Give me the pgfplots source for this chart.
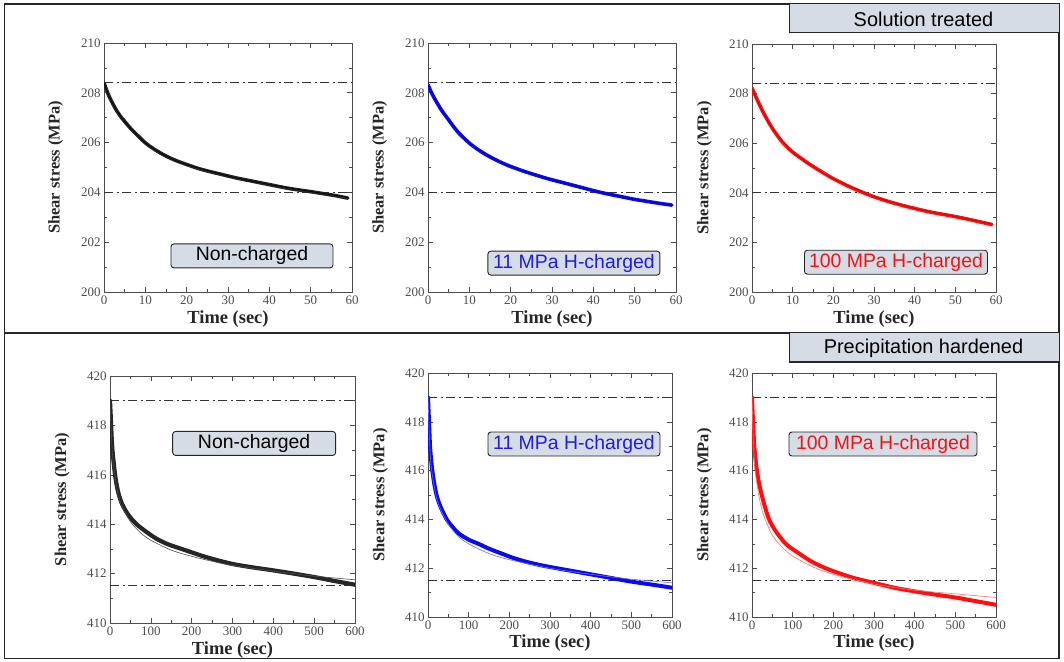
\documentclass[border=0pt]{standalone}
\usepackage{fontspec}
\setmainfont{Liberation Serif}
\newfontfamily\arial{Liberation Sans}
\usepackage{pgfplots}
\pgfplotsset{compat=1.18}
\definecolor{boxfill}{HTML}{D6DCE5}
\definecolor{myblue}{RGB}{10,10,235}
\definecolor{myred}{RGB}{255,15,15}
\definecolor{txtblue}{RGB}{30,30,220}
\definecolor{txtred}{RGB}{240,20,20}
\tikzset{lbl/.style={draw=black!85, fill=boxfill, rounded corners=3bp, line width=0.9bp, font=\arial\fontsize{19.5}{21}\selectfont, inner sep=0pt, minimum height=24bp, anchor=center}}
\pgfplotsset{panel/.style={
  scale only axis,
  axis line style={black!70, line width=0.8bp},
  tick style={black!70, line width=0.6bp},
  major tick length=5bp, minor tick length=3bp,
  tick align=inside,
  ticklabel style={font=\fontsize{13}{14}\selectfont, text=black!70},
  /pgf/number format/assume math mode=true,
  xlabel={Time (sec)}, ylabel={Shear stress (MPa)},
  every axis y label/.style={at={(axis description cs:-0.195,0.5)}, anchor=center, rotate=90, font=\bfseries\fontsize{16.5}{18}\selectfont, text=black!85},
  every axis x label/.style={at={(axis description cs:0.5,-0.108)}, anchor=center, font=\bfseries\fontsize{18.5}{20}\selectfont, text=black!85},
  minor x tick num=1, minor y tick num=1,
},
toprow/.style={panel, xmin=0, xmax=60, ymin=200, ymax=210, xtick={0,10,...,60}, ytick={200,202,...,210}},
botrow/.style={panel, xmin=0, xmax=600, ymin=410, ymax=420, xtick={0,100,...,600}, ytick={410,412,...,420}},
ddash/.style={black!80, line width=1bp, dash pattern=on 9bp off 3.5bp on 2bp off 3.5bp},
databand/.style={line width=3.6bp, smooth, line join=round, line cap=round},
fitline/.style={line width=0.6bp, smooth},
}
\begin{document}
\begin{tikzpicture}
\begin{scope}[x=1bp,y=1bp]
\path[use as bounding box] (0,0) rectangle (1064,661);
\draw[line width=1.6bp, black!85] (4.5,2.5) rectangle (1059,657);
\draw[line width=1.6bp, black!85] (4.5,328) -- (1059,328);
\draw[line width=1bp, black!85, fill=boxfill] (789,628) rectangle (1059,657);
\node[font=\arial\fontsize{20}{22}\selectfont] at (923.5,642) {Solution treated};
\draw[line width=1bp, black!85, fill=boxfill] (789,299) rectangle (1059,328);
\node[font=\arial\fontsize{20}{22}\selectfont] at (923.5,313) {Precipitation hardened};
\end{scope}

% ---------- Panel 1 ----------
\begin{axis}[toprow, at={(104bp,369bp)}, anchor=south west, width=248bp, height=249bp]
\addplot[ddash] coordinates {(0,208.4) (60,208.4)};
\addplot[ddash] coordinates {(0,204.0) (60,204.0)};
\addplot[databand, black!85] coordinates {
(0,208.4) (1,207.95) (2,207.6) (3,207.3) (4,207.05) (5,206.85) (6,206.65) (7,206.47) (8,206.31)
(10,205.99) (12,205.75) (14,205.55) (16,205.38) (18,205.24) (20,205.12) (23,204.95) (26,204.82)
(29,204.7) (32,204.58) (35,204.48) (38,204.38) (41,204.28) (44,204.18) (47,204.1) (50,204.03)
(53,203.95) (56,203.87) (59,203.77)};
\addplot[fitline, black] coordinates {
(0,208.4) (2,207.6) (5,206.85) (10,205.99) (15,205.46) (20,205.12) (30,204.66) (40,204.32) (50,204.04) (59,203.8)};
\node[lbl, minimum width=162bp] at (axis cs:35.8,201.45) {Non-charged};
\end{axis}

% ---------- Panel 2 ----------
\begin{axis}[toprow, at={(428bp,369bp)}, anchor=south west, width=248bp, height=249bp]
\addplot[ddash] coordinates {(0,208.4) (60,208.4)};
\addplot[ddash] coordinates {(0,204.0) (60,204.0)};
\addplot[databand, myblue] coordinates {
(0,208.32) (1,207.95) (2,207.65) (3,207.37) (4,207.13) (5,206.91) (6,206.68) (7,206.47) (8,206.29)
(10,205.98) (12,205.73) (14,205.52) (16,205.34) (18,205.18) (20,205.04) (23,204.86) (26,204.7)
(29,204.55) (32,204.42) (35,204.29) (38,204.16) (41,204.03) (44,203.92) (47,203.82) (50,203.72)
(53,203.64) (56,203.56) (59,203.49)};
\addplot[fitline, myblue!70!black] coordinates {
(0,208.32) (2,207.65) (5,206.91) (10,205.98) (15,205.43) (20,205.04) (30,204.5) (40,204.07) (50,203.72) (59,203.5)};
\node[lbl, minimum width=172bp, text=txtblue] at (axis cs:35.3,201.16) {11 MPa H-charged};
\end{axis}

% ---------- Panel 3 ----------
\begin{axis}[toprow, at={(752bp,369bp)}, anchor=south west, width=244bp, height=248bp]
\addplot[ddash] coordinates {(0,208.4) (60,208.4)};
\addplot[ddash] coordinates {(0,204.0) (60,204.0)};
\addplot[databand, myred] coordinates {
(0,208.23) (1,207.85) (2,207.5) (3,207.17) (4,206.87) (5,206.6) (6,206.36) (7,206.14) (8,205.95)
(10,205.64) (12,205.4) (14,205.17) (16,204.96) (18,204.76) (20,204.57) (23,204.32) (26,204.1)
(29,203.9) (32,203.73) (35,203.58) (38,203.45) (41,203.33) (44,203.22) (47,203.13) (50,203.04)
(53,202.94) (56,202.83) (59,202.72)};
\addplot[fitline, myred!70!black] coordinates {
(0,208.23) (2,207.5) (5,206.6) (10,205.64) (15,205.06) (20,204.57) (30,203.85) (40,203.37) (50,203.04) (59,202.74)};
\node[lbl, minimum width=183bp, text=txtred] at (axis cs:35.4,201.2) {100 MPa H-charged};
\end{axis}

% ---------- Panel 4 ----------
\begin{axis}[botrow, at={(110bp,38bp)}, anchor=south west, width=245bp, height=247bp]
\addplot[ddash] coordinates {(0,419.0) (600,419.0)};
\addplot[ddash] coordinates {(0,411.5) (600,411.5)};
\addplot[databand, black!85, line width=4.2bp] coordinates {
(0,419.0) (2,418.3) (4,417.55) (6,417.0) (9,416.5) (12,416.05) (16,415.62) (20,415.3) (25,415.02)
(30,414.8) (40,414.5) (50,414.27) (65,414.0) (80,413.8) (110,413.45) (140,413.2) (175,413.0)
(200,412.86) (233,412.68) (270,412.51) (306,412.37) (350,412.25) (400,412.13) (450,412.0)
(500,411.86) (550,411.7) (600,411.55)};
\addplot[fitline, black!70] coordinates {
(0,419.0) (5,417.1) (10,416.2) (20,415.2) (30,414.7) (50,414.1) (75,413.65) (100,413.35) (150,412.95)
(200,412.7) (250,412.5) (300,412.33) (400,412.1) (500,411.9) (600,411.75)};
\node[lbl, minimum width=163bp] at (axis cs:353,417.27) {Non-charged};
\end{axis}

% ---------- Panel 5 ----------
\begin{axis}[botrow, at={(428bp,44bp)}, anchor=south west, width=244bp, height=244bp]
\addplot[ddash] coordinates {(0,419.0) (600,419.0)};
\addplot[ddash] coordinates {(0,411.5) (600,411.5)};
\addplot[databand, myblue, line width=4bp] coordinates {
(0,419.0) (2.5,418.0) (5,417.0) (8,416.4) (10.7,416.0) (15,415.5) (21,415.0) (30,414.55) (46,414.0)
(60,413.7) (75,413.43) (100,413.17) (124,413.0) (150,412.8) (181,412.6) (210,412.42) (238,412.28)
(270,412.15) (300,412.05) (350,411.9) (400,411.75) (450,411.6) (500,411.45) (550,411.33) (600,411.2)};
\addplot[fitline, myblue!60] coordinates {
(0,419.0) (5,416.8) (10,415.9) (20,414.95) (30,414.45) (50,413.8) (75,413.3) (100,413.0) (150,412.6)
(200,412.35) (300,412.0) (400,411.75) (500,411.55) (600,411.4)};
\node[lbl, minimum width=172bp, text=txtblue] at (axis cs:359,417.09) {11 MPa H-charged};
\end{axis}

% ---------- Panel 6 ----------
\begin{axis}[botrow, at={(752bp,44bp)}, anchor=south west, width=244bp, height=244bp]
\addplot[ddash] coordinates {(0,419.0) (600,419.0)};
\addplot[ddash] coordinates {(0,411.5) (600,411.5)};
\addplot[databand, myred, line width=4bp] coordinates {
(0,419.0) (2.5,418.0) (5.7,417.0) (8.5,416.5) (12,416.0) (17,415.5) (24,415.0) (32,414.5) (42,414.0)
(55,413.6) (68,413.3) (83,413.0) (100,412.78) (125,412.5) (148,412.26) (181,412.0) (210,411.82)
(250,411.6) (300,411.4) (350,411.2) (400,411.05) (450,410.92) (500,410.8) (550,410.65) (600,410.5)};
\addplot[fitline, myred!60] coordinates {
(0,419.0) (5,416.6) (10,415.7) (20,414.7) (30,414.1) (50,413.35) (75,412.85) (100,412.5) (150,412.05)
(200,411.75) (300,411.35) (400,411.1) (500,410.95) (600,410.8)};
\node[lbl, minimum width=188bp, text=txtred] at (axis cs:322,417.09) {100 MPa H-charged};
\end{axis}
\end{tikzpicture}
\end{document}
